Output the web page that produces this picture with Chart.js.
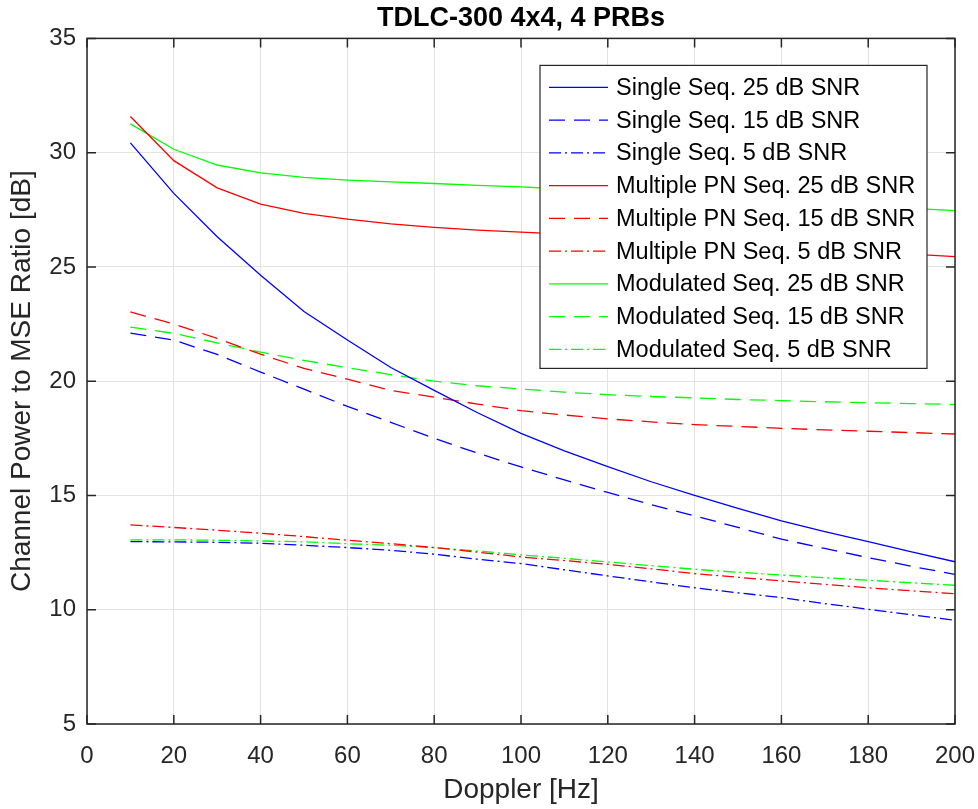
<!DOCTYPE html>
<html>
<head>
<meta charset="utf-8">
<script src="https://cdn.jsdelivr.net/npm/chart.js@4.4.1/dist/chart.umd.min.js"></script>
<style>
  html,body{margin:0;padding:0;background:#fff;}
</style>
</head>
<body>
<canvas id="chart" width="978" height="809"></canvas>
<script>
// doppler in Hz, values in dB
const doppler=[10,20,30,40,50,60,70,80,90,100,110,120,130,140,150,160,170,180,190,200]

const single25=[30.43,28.22,26.32,24.64,23.05,21.8,20.6,19.6,18.62,17.72,16.95,16.26,15.6,15.0,14.43,13.89,13.42,12.98,12.53,12.1]
const single15=[22.1,21.8,21.17,20.4,19.65,18.9,18.2,17.5,16.85,16.25,15.68,15.13,14.6,14.11,13.6,13.09,12.68,12.28,11.9,11.55]
const single5=[12.98,12.97,12.95,12.91,12.82,12.72,12.6,12.43,12.21,12.02,11.75,11.48,11.22,10.96,10.74,10.53,10.27,10.02,9.78,9.54]

const pn25=[31.58,29.65,28.46,27.75,27.34,27.09,26.88,26.73,26.61,26.52,26.44,26.33,26.22,26.11,26.0,25.89,25.78,25.67,25.56,25.45]
const pn15=[23.03,22.5,21.87,21.18,20.56,20.09,19.6,19.3,19.0,18.71,18.52,18.35,18.22,18.1,18.02,17.94,17.87,17.81,17.75,17.69]
const pn5=[13.71,13.6,13.48,13.35,13.2,13.04,12.89,12.72,12.52,12.31,12.15,11.99,11.79,11.58,11.42,11.26,11.11,10.96,10.83,10.7]

const mod25=[31.26,30.15,29.46,29.12,28.92,28.8,28.72,28.65,28.57,28.5,28.41,28.3,28.2,28.1,28.0,27.88,27.78,27.67,27.56,27.46]
const mod15=[22.37,22.09,21.68,21.27,20.91,20.59,20.29,20.0,19.8,19.66,19.52,19.41,19.33,19.27,19.2,19.15,19.1,19.06,19.02,18.98]
const mod5=[13.06,13.06,13.04,13.01,12.97,12.89,12.82,12.72,12.57,12.4,12.25,12.09,11.93,11.77,11.64,11.52,11.4,11.29,11.18,11.07]

const xTicks=[0,20,40,60,80,100,120,140,160,180,200]
const yTicks=[5,10,15,20,25,30,35]

const BLUE='#0000ff', RED='#ff0000', GREEN='#00ff00'
const SOLID=[], DASH=[16,9], DASHDOT=[12,4,2,4]
const AXIS='#262626'
const FONT='Arial, "Liberation Sans", Helvetica, sans-serif'

function series(label,vals,color,dash){
    return {
        label:label,
        data:doppler.map((d,i)=>({x:d,y:vals[i]})),
        borderColor:color,
        backgroundColor:color,
        borderWidth:1.3,
        borderDash:dash,
        pointRadius:0,
        pointHoverRadius:0,
        fill:false,
        tension:0
    }
}

// box round the plot + inward ticks on all four sides (matlab style)
const frame={
    id:'frame',
    afterDatasetsDraw(chart){
        const {ctx,chartArea:a,scales}=chart
        const tl=9
        ctx.save()
        ctx.setLineDash([])
        ctx.strokeStyle=AXIS
        ctx.lineWidth=1.5
        ctx.beginPath()
        xTicks.forEach(v=>{
            const px=scales.x.getPixelForValue(v)
            ctx.moveTo(px,a.bottom); ctx.lineTo(px,a.bottom-tl)
            ctx.moveTo(px,a.top); ctx.lineTo(px,a.top+tl)
        })
        yTicks.forEach(v=>{
            const py=scales.y.getPixelForValue(v)
            ctx.moveTo(a.left,py); ctx.lineTo(a.left+tl,py)
            ctx.moveTo(a.right,py); ctx.lineTo(a.right-tl,py)
        })
        ctx.stroke()
        ctx.strokeRect(a.left,a.top,a.right-a.left,a.bottom-a.top)
        ctx.restore()
    }
}

// legend box inside the plot, top right
const insetLegend={
    id:'insetLegend',
    afterDraw(chart){
        const {ctx,chartArea:a}=chart
        const w=387, h=303
        const left=a.right-28-w, top=a.top+27
        const rowH=32.75
        ctx.save()
        ctx.fillStyle='#fff'
        ctx.fillRect(left,top,w,h)
        ctx.setLineDash([])
        ctx.strokeStyle=AXIS
        ctx.lineWidth=1.2
        ctx.strokeRect(left,top,w,h)
        ctx.font='23.5px '+FONT
        ctx.textBaseline='middle'
        ctx.textAlign='left'
        chart.data.datasets.forEach((ds,i)=>{
            const cy=top+22+i*rowH
            ctx.strokeStyle=ds.borderColor
            ctx.lineWidth=ds.borderWidth
            ctx.setLineDash(ds.borderDash)
            ctx.beginPath()
            ctx.moveTo(left+9,cy)
            ctx.lineTo(left+68,cy)
            ctx.stroke()
            ctx.fillStyle='#000'
            ctx.fillText(ds.label,left+76,cy+1)
        })
        ctx.restore()
    }
}

new Chart(document.getElementById('chart').getContext('2d'),{
    type:'line',
    data:{
        datasets:[
            series('Single Seq. 25 dB SNR',single25,BLUE,SOLID),
            series('Single Seq. 15 dB SNR',single15,BLUE,DASH),
            series('Single Seq. 5 dB SNR',single5,BLUE,DASHDOT),
            series('Multiple PN Seq. 25 dB SNR',pn25,RED,SOLID),
            series('Multiple PN Seq. 15 dB SNR',pn15,RED,DASH),
            series('Multiple PN Seq. 5 dB SNR',pn5,RED,DASHDOT),
            series('Modulated Seq. 25 dB SNR',mod25,GREEN,SOLID),
            series('Modulated Seq. 15 dB SNR',mod15,GREEN,DASH),
            series('Modulated Seq. 5 dB SNR',mod5,GREEN,DASHDOT)
        ]
    },
    options:{
        responsive:false,
        devicePixelRatio:1,
        animation:false,
        layout:{padding:{left:0,right:23,top:0,bottom:0}},
        plugins:{
            legend:{display:false},
            tooltip:{enabled:false},
            title:{
                display:true,
                fullSize:false,
                text:'TDLC-300 4x4, 4 PRBs',
                color:'#000',
                font:{family:FONT,size:27,weight:'bold',lineHeight:1.2},
                padding:{top:2,bottom:4}
            }
        },
        scales:{
            x:{
                type:'linear',
                min:0,max:200,
                afterBuildTicks:s=>{s.ticks=xTicks.map(v=>({value:v}))},
                afterFit:s=>{s.height=85;s.paddingLeft=0;s.paddingRight=0},
                ticks:{color:AXIS,font:{family:FONT,size:24},padding:18,maxRotation:0},
                grid:{color:'#e3e3e3',lineWidth:1,drawTicks:false},
                border:{display:false},
                title:{display:true,text:'Doppler [Hz]',color:AXIS,font:{family:FONT,size:28},padding:{top:0,bottom:2}}
            },
            y:{
                type:'linear',
                min:5,max:35,
                afterBuildTicks:s=>{s.ticks=yTicks.map(v=>({value:v}))},
                afterFit:s=>{s.width=87;s.paddingTop=0;s.paddingBottom=0},
                ticks:{color:AXIS,font:{family:FONT,size:24},padding:11},
                grid:{color:'#e3e3e3',lineWidth:1,drawTicks:false},
                border:{display:false},
                title:{display:true,text:'Channel Power to MSE Ratio [dB]',color:AXIS,font:{family:FONT,size:28},padding:{top:5,bottom:0}}
            }
        }
    },
    plugins:[frame,insetLegend]
})
</script>
</body>
</html>
